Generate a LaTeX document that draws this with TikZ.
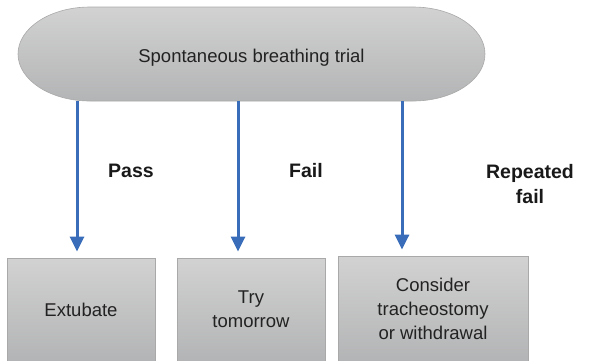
\documentclass[tikz,border=0pt]{standalone}
\usepackage{fontspec}
\setmainfont{Liberation Sans}
\usepackage{tikz}
\usetikzlibrary{arrows.meta,positioning,calc}
\definecolor{boxtop}{HTML}{D2D2D2}
\definecolor{boxbot}{HTML}{B3B4B5}
\definecolor{boxedge}{HTML}{A9A9A9}
\definecolor{flowblue}{HTML}{3A6DB9}
\definecolor{inktext}{HTML}{222222}

\begin{document}
\begin{tikzpicture}[x=1pt, y=-1pt,
    every node/.style={font=\fontsize{18.5}{24}\selectfont, text=inktext},
    outcome/.style={draw=boxedge, line width=0.8pt, top color=boxtop, bottom color=boxbot, align=center, inner sep=0pt},
    flow/.style={flowblue, line width=3pt, shorten >=6pt, -{Triangle[width=14pt,length=15pt]}},
    tag/.style={font=\fontsize{19.5}{25}\selectfont\bfseries, align=center, text=black!90}]
    \useasboundingbox (0,0) rectangle (589,360);
    % Trial (stadium with elliptic ends)
    \shade[top color=boxtop, bottom color=boxbot, draw=boxedge, line width=0.6pt]
    (90,7) -- (413,7) arc[start angle=-90, end angle=90, x radius=72, y radius=47]
    -- (90,101) arc[start angle=90, end angle=270, x radius=72, y radius=47] -- cycle;
    \node[minimum width=467pt, minimum height=86pt, yshift=-4pt] (sbt) at (251.5,54) {Spontaneous breathing trial};
    % Outcomes
    \node[outcome, minimum width=148pt, minimum height=103pt] (extub) at (81,309.5) {Extubate};
    \node[outcome, minimum width=148pt, minimum height=103pt] (trytom) at (251,309.5) {Try\\tomorrow};
    \node[outcome, minimum width=190pt, minimum height=105pt] (trach) at (433,308.5) {Consider\\tracheostomy\\or withdrawal};
    % Arrows
    \draw[flow] ([xshift=-4pt]extub.north |- sbt.south) -- ([xshift=-4pt]extub.north);
    \draw[flow] ([xshift=-13pt]trytom.north |- sbt.south) -- ([xshift=-13pt]trytom.north);
    \draw[flow] ([xshift=-31pt]trach.north |- sbt.south) -- ([xshift=-31pt]trach.north);
    % Labels
    \node[tag] (pass) at (131,171) {Pass};
    \node[tag] (fail) at (306,171) {Fail};
    \node[tag] (repfail) at (530,184) {Repeated\\fail};
\end{tikzpicture}
\end{document}
